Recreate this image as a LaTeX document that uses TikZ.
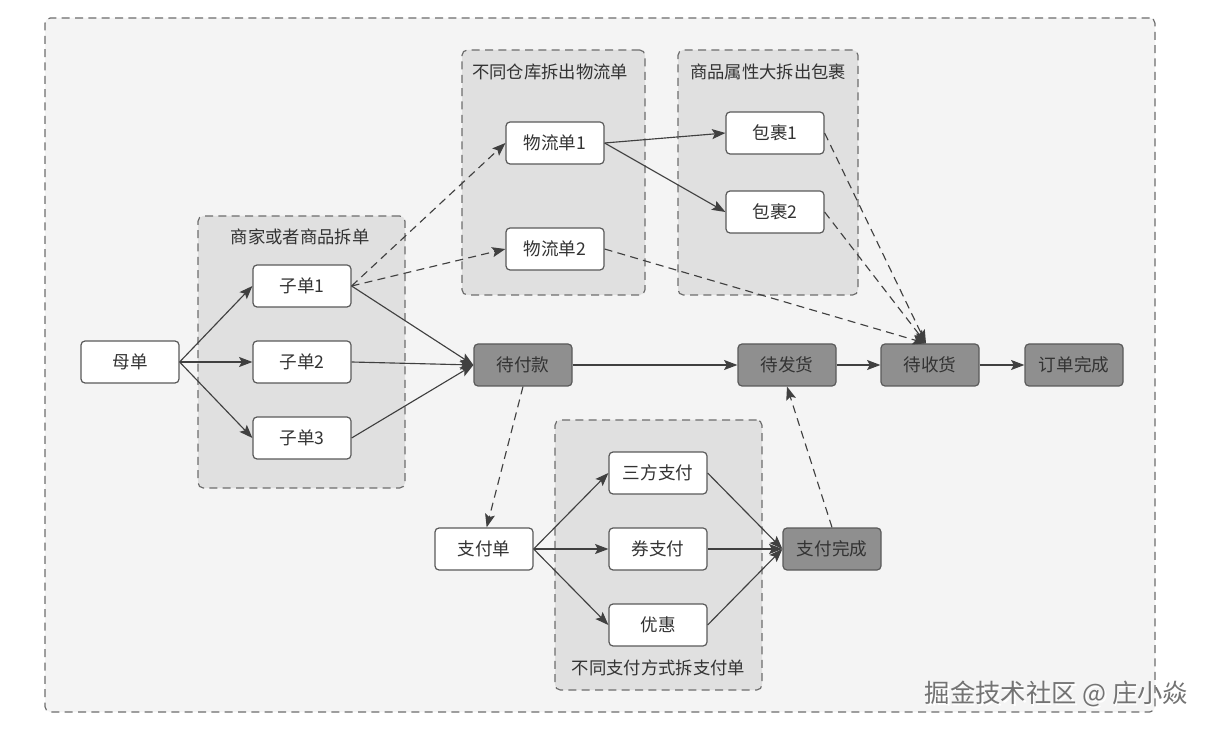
\documentclass[tikz,border=0pt]{standalone}
\usepackage{fontspec}
\newfontfamily\cjk{Noto Sans CJK SC}
\usetikzlibrary{arrows.meta}
\definecolor{outerfill}{HTML}{F4F4F4}
\definecolor{groupfill}{HTML}{E0E0E0}
\definecolor{groupline}{HTML}{6E6E6E}
\definecolor{darkfill}{HTML}{8F8F8F}
\definecolor{boxline}{HTML}{5A5A5A}
\definecolor{txt}{HTML}{333333}
\definecolor{edge}{HTML}{404040}
\tikzset{
  box/.style={draw=boxline, fill=white, rounded corners=3pt, line width=0.9pt,
    minimum width=73.5pt, minimum height=31.5pt, inner sep=0pt, text=txt,
    font=\cjk\fontsize{13.2}{15}\selectfont},
  darkbox/.style={box, fill=darkfill},
  group/.style={draw=groupline, fill=groupfill, rounded corners=4pt, line width=0.9pt,
    dash pattern=on 6pt off 4pt, inner sep=0pt},
  gtitle/.style={text=txt, font=\cjk\fontsize{13}{15}\selectfont, inner sep=0pt},
  arr/.style={draw=edge, line width=0.85pt, -{Stealth[length=10pt,width=7.5pt,inset=2pt]}},
  darr/.style={arr, dash pattern=on 6pt off 4pt},
}
\begin{document}
\begin{tikzpicture}[x=0.75pt,y=-0.75pt]
\useasboundingbox (0,0) rectangle (1209,730);
\fill[white] (0,0) rectangle (1209,730);
% outer frame
\node[group, fill=outerfill, minimum width=832.5pt, minimum height=520.5pt] (outer) at (600,365) {};
% groups
\node[group, minimum width=155.25pt, minimum height=204pt] (g1) at (301.5,352) {};
\node[gtitle] (g1t) at (300,237) {商家或者商品拆单};
\node[group, minimum width=137.25pt, minimum height=183.75pt] (g2) at (553.5,172.5) {};
\node[gtitle] (g2t) at (550,72) {不同仓库拆出物流单};
\node[group, minimum width=135pt, minimum height=183.75pt] (g3) at (768,172.5) {};
\node[gtitle] (g3t) at (768,72) {商品属性大拆出包裹};
\node[group, minimum width=155.25pt, minimum height=202.5pt] (g4) at (658.5,555) {};
\node[gtitle] (g4t) at (658.5,668) {不同支付方式拆支付单};
% nodes
\node[box] (mu) at (130,362) {母单};
\node[box] (z1) at (302,286) {子单1};
\node[box] (z2) at (302,362) {子单2};
\node[box] (z3) at (302,438) {子单3};
\node[box] (w1) at (555,143) {物流单1};
\node[box] (w2) at (555,249) {物流单2};
\node[box] (b1) at (775,133) {包裹1};
\node[box] (b2) at (775,212) {包裹2};
\node[darkbox] (dfk) at (523,365) {待付款};
\node[darkbox] (dfh) at (787,365) {待发货};
\node[darkbox] (dsh) at (930,365) {待收货};
\node[darkbox] (ddwc) at (1074,365) {订单完成};
\node[box] (zfd) at (484,549) {支付单};
\node[box] (sf) at (658,473) {三方支付};
\node[box] (qzf) at (658,549) {券支付};
\node[box] (yh) at (658,625) {优惠};
\node[darkbox] (zfwc) at (832,549) {支付完成};
% edges
\draw[arr] (mu.east) -- (z1.west);
\draw[arr] (mu.east) -- (z2.west);
\draw[arr] (mu.east) -- (z3.west);
\draw[arr] (z1.east) -- (dfk.west);
\draw[arr] (z2.east) -- (dfk.west);
\draw[arr] (z3.east) -- (dfk.west);
\draw[darr] (z1.east) -- (w1.west);
\draw[darr] (z1.east) -- (w2.west);
\draw[arr] (w1.east) -- (b1.west);
\draw[arr] (w1.east) -- (b2.west);
\coordinate (dshin) at ([xshift=-3pt]dsh.north);
\draw[darr] (b1.east) -- (dshin);
\draw[darr] (b2.east) -- (dshin);
\draw[darr] (w2.east) -- (dshin);
\draw[arr] (dfk.east) -- (dfh.west);
\draw[arr] (dfh.east) -- (dsh.west);
\draw[arr] (dsh.east) -- (ddwc.west);
\draw[darr] (dfk.south) -- ([xshift=2pt]zfd.north);
\draw[arr] (zfd.east) -- (sf.west);
\draw[arr] (zfd.east) -- (qzf.west);
\draw[arr] (zfd.east) -- (yh.west);
\draw[arr] (sf.east) -- (zfwc.west);
\draw[arr] (qzf.east) -- (zfwc.west);
\draw[arr] (yh.east) -- (zfwc.west);
\draw[darr] (zfwc.north) -- (dfh.south);
% watermark
\node[text=white, font=\cjk\fontsize{19}{22}\selectfont, inner sep=0pt] (wm0) at (1058,695.5) {掘金技术社区 @ 庄小焱};
\node[text=black!55, font=\cjk\fontsize{19}{22}\selectfont, inner sep=0pt] (wm) at (1056.5,694) {掘金技术社区 @ 庄小焱};
\end{tikzpicture}
\end{document}
